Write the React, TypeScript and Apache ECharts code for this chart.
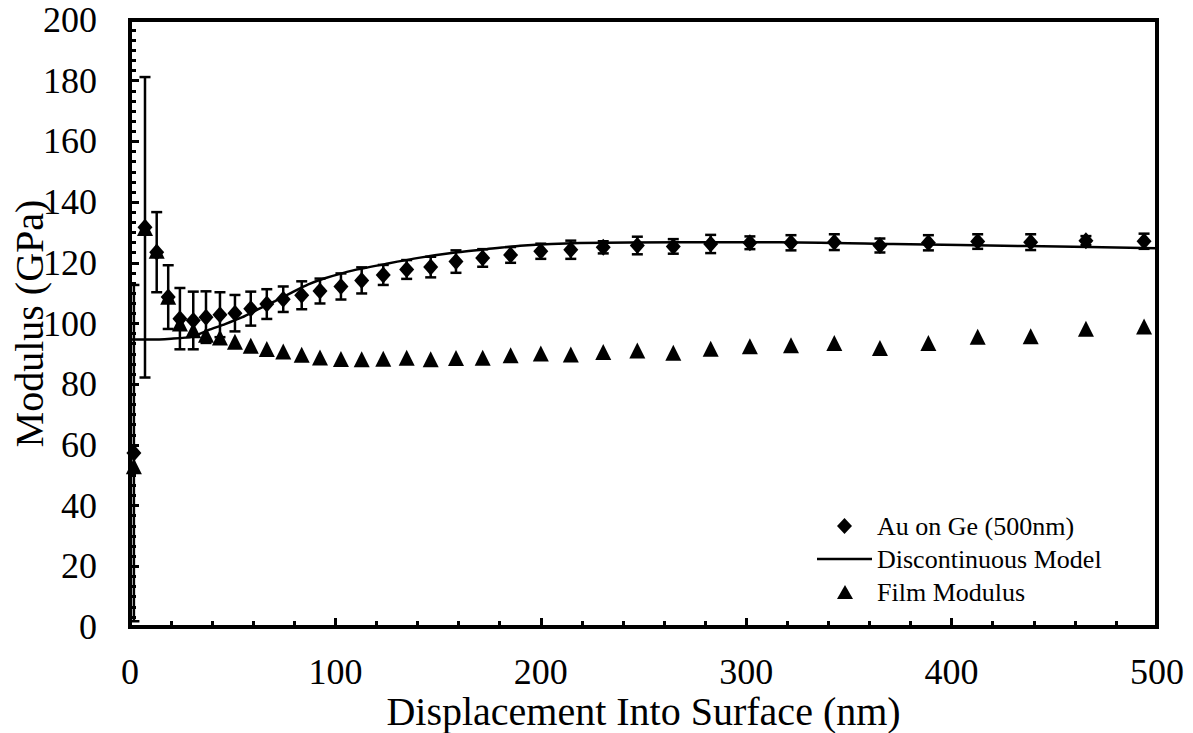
import React, { useEffect, useRef } from "react";
import * as echarts from "echarts";

// Measured data: depth (nm), composite modulus (GPa) with std. dev., film modulus (GPa)
const depth = [1.9, 7.3, 13.0, 18.6, 24.3, 30.8, 37.0, 43.8, 51.1, 58.8, 66.6, 74.6, 83.6, 92.5, 102.7, 112.8, 123.3, 134.7, 146.4, 158.7, 171.7, 185.3, 200.0, 214.6, 230.4, 247.0, 264.5, 282.7, 301.8, 321.8, 342.9, 365.1, 388.7, 412.7, 438.5, 465.4, 493.7];
const modulus = [57.3, 131.7, 123.5, 108.7, 101.6, 101.0, 102.1, 102.9, 103.4, 104.9, 106.4, 108.0, 109.3, 110.7, 112.2, 114.2, 116.0, 117.8, 118.6, 120.4, 121.6, 122.6, 123.8, 124.3, 125.1, 125.7, 125.4, 126.2, 126.6, 126.6, 126.8, 125.7, 126.6, 127.0, 126.8, 127.3, 127.1];
const modulusErr = [55.4, 49.5, 13.2, 10.5, 10.1, 9.5, 8.5, 7.4, 6.0, 5.6, 4.9, 4.2, 4.6, 4.1, 4.3, 4.3, 3.3, 3.1, 3.4, 3.7, 2.9, 2.6, 2.5, 3.0, 2.0, 2.9, 2.4, 3.0, 2.1, 2.5, 2.6, 2.3, 2.5, 2.4, 2.6, 1.5, 2.5];
const filmModulus = [53.0, 131.5, 124.0, 108.8, 100.0, 97.8, 96.3, 95.4, 94.0, 92.7, 91.6, 90.8, 89.7, 88.8, 88.3, 88.2, 88.4, 88.7, 88.2, 88.6, 88.7, 89.5, 90.1, 89.8, 90.6, 91.1, 90.4, 91.7, 92.5, 92.8, 93.6, 91.9, 93.6, 95.6, 95.8, 98.3, 99.0];

// Discontinuous model curve
const modelDepth = [0.8, 10, 20, 30, 38.1, 46.3, 54.4, 62.5, 70.6, 78.7, 86.8, 94.9, 108.7, 125, 141.2, 157.4, 173.7, 189.9, 219, 268, 316, 371.5, 436.7, 500];
const modelModulus = [94.7, 94.7, 95.0, 95.6, 97.8, 99.8, 102.0, 104.7, 107.4, 110.2, 112.9, 114.9, 117.5, 119.7, 121.7, 123.3, 124.5, 125.6, 126.5, 126.8, 126.8, 126.2, 125.5, 124.8];

const seriesNames = ["Au on Ge (500nm)", "Discontinuous Model", "Film Modulus"];
const xTitle = "Displacement Into Surface (nm)";
const yTitle = "Modulus (GPa)";

const FONT = "'Liberation Serif', 'Times New Roman', serif";

export default function App() {
  const ref = useRef<HTMLDivElement>(null);
  useEffect(() => {
    if (!ref.current) return;
    const chart = echarts.init(ref.current, undefined, { renderer: "svg" });
    const errData = depth.map((d, i) => [d, modulus[i], modulusErr[i]]);
    const legendText = (pad: number) => ({
      fontFamily: FONT,
      fontSize: 26,
      color: "#000",
      padding: [0, 0, 0, pad],
    });
    chart.setOption({
      animation: false,
      backgroundColor: "#fff",
      grid: {
        left: 130,
        right: 36,
        top: 20,
        bottom: 106,
        show: true,
        borderColor: "#000",
        borderWidth: 4,
        outerBoundsMode: "none",
        containLabel: false,
      },
      legend: [
        {
          data: [{ name: seriesNames[0], icon: "diamond" }],
          left: 837,
          top: 513,
          padding: 0,
          itemWidth: 15,
          itemHeight: 16,
          itemStyle: { color: "#000", opacity: 1 },
          textStyle: legendText(20),
        },
        {
          data: [{ name: seriesNames[1], icon: "rect" }],
          left: 817,
          top: 546,
          padding: 0,
          itemWidth: 55,
          itemHeight: 2.5,
          itemStyle: { color: "#000" },
          textStyle: legendText(0),
        },
        {
          data: [{ name: seriesNames[2], icon: "triangle" }],
          left: 837,
          top: 579,
          padding: 0,
          itemWidth: 16,
          itemHeight: 14,
          itemStyle: { color: "#000", opacity: 1 },
          textStyle: legendText(19),
        },
      ],
      xAxis: {
        type: "value",
        min: 0,
        max: 500,
        interval: 100,
        name: xTitle,
        nameLocation: "middle",
        nameGap: 67,
        nameMoveOverlap: false,
        nameTextStyle: { fontFamily: FONT, fontSize: 40, lineHeight: 34, color: "#000" },
        axisLine: { show: true, lineStyle: { color: "#000", width: 4 } },
        axisTick: { show: true, inside: true, length: 9, lineStyle: { color: "#000", width: 3 } },
        minorTick: { show: true, splitNumber: 5, length: 6, lineStyle: { color: "#000", width: 3 } },
        splitLine: { show: false },
        axisLabel: { fontFamily: FONT, fontSize: 36, lineHeight: 28, color: "#000", margin: 31 },
      },
      yAxis: {
        type: "value",
        min: 0,
        max: 200,
        interval: 20,
        name: yTitle,
        nameLocation: "middle",
        nameGap: 81,
        nameMoveOverlap: false,
        nameTextStyle: { fontFamily: FONT, fontSize: 40, color: "#000" },
        axisLine: { show: true, lineStyle: { color: "#000", width: 4 } },
        axisTick: { show: true, inside: true, length: 9, lineStyle: { color: "#000", width: 3 } },
        minorTick: { show: true, splitNumber: 6, length: 6, lineStyle: { color: "#000", width: 3 } },
        splitLine: { show: false },
        axisLabel: { fontFamily: FONT, fontSize: 36, color: "#000", margin: 33 },
      },
      series: [
        {
          type: "custom",
          name: "errorbars",
          z: 3,
          data: errData,
          encode: { x: 0, y: 1 },
          renderItem: (params: any, api: any) => {
            const x = api.value(0);
            const y = api.value(1);
            const e = api.value(2);
            const top = api.coord([x, y + e]);
            const bot = api.coord([x, y - e]);
            const hw = 5.5;
            const style = { stroke: "#000", lineWidth: 2.5 };
            return {
              type: "group",
              children: [
                { type: "line", shape: { x1: top[0], y1: top[1], x2: bot[0], y2: bot[1] }, style },
                { type: "line", shape: { x1: top[0] - hw, y1: top[1], x2: top[0] + hw, y2: top[1] }, style },
                { type: "line", shape: { x1: bot[0] - hw, y1: bot[1], x2: bot[0] + hw, y2: bot[1] }, style },
              ],
            };
          },
        },
        {
          type: "line",
          name: seriesNames[1],
          z: 4,
          data: modelDepth.map((d, i) => [d, modelModulus[i]]),
          showSymbol: false,
          symbol: "none",
          smooth: 0.2,
          lineStyle: { color: "#000", width: 2.5 },
          itemStyle: { color: "#000" },
        },
        {
          type: "scatter",
          name: seriesNames[2],
          z: 5,
          symbol: "triangle",
          symbolSize: 16,
          data: depth.map((d, i) => [d, filmModulus[i]]),
          itemStyle: { color: "#000", opacity: 1 },
        },
        {
          type: "scatter",
          name: seriesNames[0],
          z: 6,
          symbol: "diamond",
          symbolSize: [15, 17],
          data: depth.map((d, i) => [d, modulus[i]]),
          itemStyle: { color: "#000", opacity: 1 },
        },
      ],
    });
    return () => chart.dispose();
  }, []);
  return (
    <div
      ref={ref}
      style={{ position: "fixed", left: 0, top: 0, width: 1193, height: 733, background: "#fff" }}
    />
  );
}
